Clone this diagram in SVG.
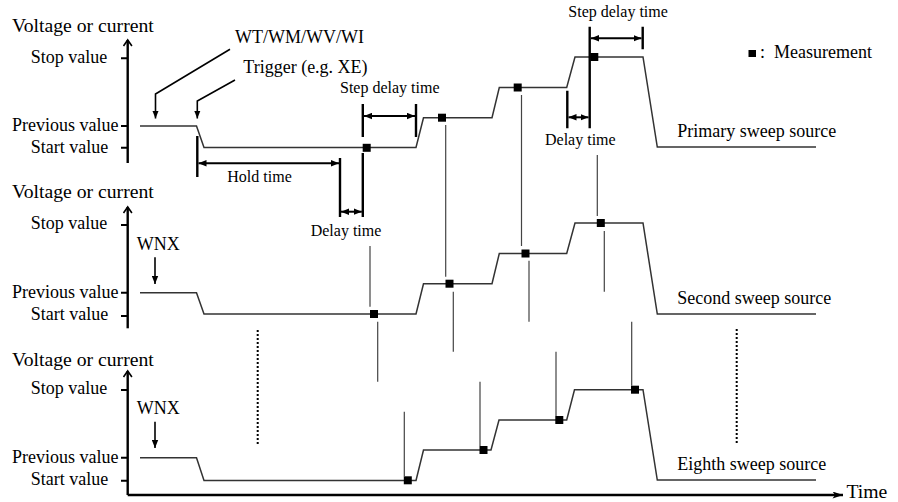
<svg xmlns="http://www.w3.org/2000/svg" width="898" height="502" viewBox="0 0 898 502">
<defs>
<style>
text{font-family:"Liberation Serif","Times New Roman",serif;fill:#000}
.lb{font-size:18px}
.sm{font-size:16px}
.ax{font-size:19.7px}
.axis{stroke:#000;stroke-width:2.4;fill:none}
.tick{stroke:#000;stroke-width:2;fill:none}
.chev{stroke:#000;stroke-width:1.6;fill:none}
.trace{stroke:#333;stroke-width:1.5;fill:none;stroke-linejoin:miter}
.conn{stroke:#444;stroke-width:1.2;fill:none}
.mark{stroke:#000;stroke-width:2.4;fill:none}
.dim{stroke:#000;stroke-width:2;fill:none;marker-start:url(#ah);marker-end:url(#ah)}
.ptr{stroke:#000;stroke-width:1.6;fill:none;marker-end:url(#ah)}
.dot{stroke:#000;stroke-width:2;stroke-dasharray:2 2;fill:none}
.sq{fill:#000}
</style>
<marker id="ah" viewBox="0 0 10 8" refX="10" refY="4" markerWidth="8" markerHeight="7" markerUnits="userSpaceOnUse" orient="auto-start-reverse">
<path d="M0,0 L10,4 L0,8 z" fill="#000"/>
</marker>
<marker id="ta" viewBox="0 0 12 8" refX="12" refY="4" markerWidth="11" markerHeight="7" markerUnits="userSpaceOnUse" orient="auto">
<path d="M0,0 L12,4 L0,8 L3,4 z" fill="#000"/>
</marker>
</defs>

<g id="axes">
<path class="axis" d="M127.7,163 V40"/>
<path class="axis" d="M127.7,328.3 V207"/>
<path class="axis" d="M127.7,495 V371"/>
<path class="axis" d="M127.7,495 H843" marker-end="url(#ta)"/>
<path class="chev" d="M123.5,46 L127.7,40 L131.9,46 M123.5,213 L127.7,207 L131.9,213 M123.5,377 L127.7,371 L131.9,377"/>
<path class="tick" d="M121,58.3 H128 M121,126 H128 M121,147.7 H128 M121,225 H128 M121,292.7 H128 M121,316 H128 M121,390 H128 M121,457.7 H128 M121,480.7 H128"/>
<text class="ax" x="12" y="32">Voltage or current</text>
<text class="lb" x="30.7" y="63">Stop value</text>
<text class="lb" x="12" y="131">Previous value</text>
<text class="lb" x="30.7" y="153">Start value</text>
<text class="ax" x="12" y="198">Voltage or current</text>
<text class="lb" x="30.7" y="229">Stop value</text>
<text class="lb" x="12" y="298">Previous value</text>
<text class="lb" x="30.7" y="320">Start value</text>
<text class="ax" x="12" y="366">Voltage or current</text>
<text class="lb" x="30.7" y="394">Stop value</text>
<text class="lb" x="12" y="462.5">Previous value</text>
<text class="lb" x="30.7" y="485">Start value</text>
<text class="ax" x="846.5" y="497.5">Time</text>
</g>

<g id="primary-sweep-source">
<path class="trace" d="M140,126 H196.5 L204,147.5 H416 L423.5,117.7 H492 L499.3,87.5 H566.7 L575,57 H643 L657.3,147 H816"/>
<rect class="sq" x="362.7" y="143.8" width="8" height="8"/>
<rect class="sq" x="438" y="113.7" width="8" height="8"/>
<rect class="sq" x="513.7" y="83.5" width="8" height="8"/>
<rect class="sq" x="590.3" y="53" width="8" height="8"/>
<text class="lb" x="677.3" y="137.3">Primary sweep source</text>
</g>

<g id="second-sweep-source">
<path class="trace" d="M140,292.7 H196.5 L204,314 H416 L423.5,283.7 H492 L499.3,253.5 H566.7 L575,223 H643 L657.3,314 H816"/>
<rect class="sq" x="370" y="310" width="8" height="8"/>
<rect class="sq" x="445.5" y="279.7" width="8" height="8"/>
<rect class="sq" x="521.5" y="249.5" width="8" height="8"/>
<rect class="sq" x="596.8" y="219" width="8" height="8"/>
<text class="lb" x="677.3" y="303.5">Second sweep source</text>
<text class="lb" x="136.7" y="250">WNX</text>
<path class="ptr" d="M155,257.3 V284"/>
</g>

<g id="eighth-sweep-source">
<path class="trace" d="M140,457.7 H196.5 L204,480.5 H416 L423.5,450 H491 L499,420 H566.7 L574.5,389.7 H643 L657.3,480 H816"/>
<rect class="sq" x="403.8" y="476.3" width="8" height="8"/>
<rect class="sq" x="479.5" y="446" width="8" height="8"/>
<rect class="sq" x="555.3" y="416" width="8" height="8"/>
<rect class="sq" x="631" y="385.7" width="8" height="8"/>
<text class="lb" x="677.3" y="470">Eighth sweep source</text>
<text class="lb" x="136.7" y="414">WNX</text>
<path class="ptr" d="M155,421.7 V448"/>
</g>

<g id="annotations">
<text class="lb" x="235" y="43">WT/WM/WV/WI</text>
<path class="ptr" d="M230,49.3 L155.5,94 V118.5"/>
<text class="lb" x="243.3" y="73">Trigger (e.g. XE)</text>
<path class="ptr" d="M235,80 L197.3,101 V118.5"/>
<path class="mark" d="M197.3,136 V177 M340,158 V217 M362.8,104 V137 M362.8,153 V217 M416,104 V137 M567.3,90.7 V128.3 M589.7,26.7 V128.3 M642.7,26.7 V49.3"/>
<path class="dim" d="M198.5,163.3 H339"/>
<path class="dim" d="M341,211.7 H361.8"/>
<path class="dim" d="M364,116 H415"/>
<path class="dim" d="M568.5,117.3 H588.5"/>
<path class="dim" d="M591,38.3 H641.5"/>
<text class="sm" x="227.3" y="181.7">Hold time</text>
<text class="sm" x="310.7" y="236">Delay time</text>
<text class="sm" x="340" y="93.3">Step delay time</text>
<text class="sm" x="545" y="145">Delay time</text>
<text class="sm" x="568.3" y="17">Step delay time</text>
<rect class="sq" x="748.5" y="50" width="7.5" height="7"/>
<text class="lb" x="760" y="58.3">:<tspan x="774">Measurement</tspan></text>
<path class="dot" d="M257.7,330 V444 M736.7,329 V444"/>
</g>

<g id="connectors">
<path class="conn" d="M370,246 V306.7 M445.7,125 V276.7 M521.5,95 V246 M597.3,155 V216"/>
<path class="conn" d="M377.7,321.7 V381.7 M453.3,291.7 V351.7 M529,260.7 V321.7 M604.3,231 V291.7"/>
<path class="conn" d="M404.3,411.7 V476.5 M480,381.7 V446 M556,351.7 V416 M631.7,321.7 V385.7"/>
</g>
</svg>
